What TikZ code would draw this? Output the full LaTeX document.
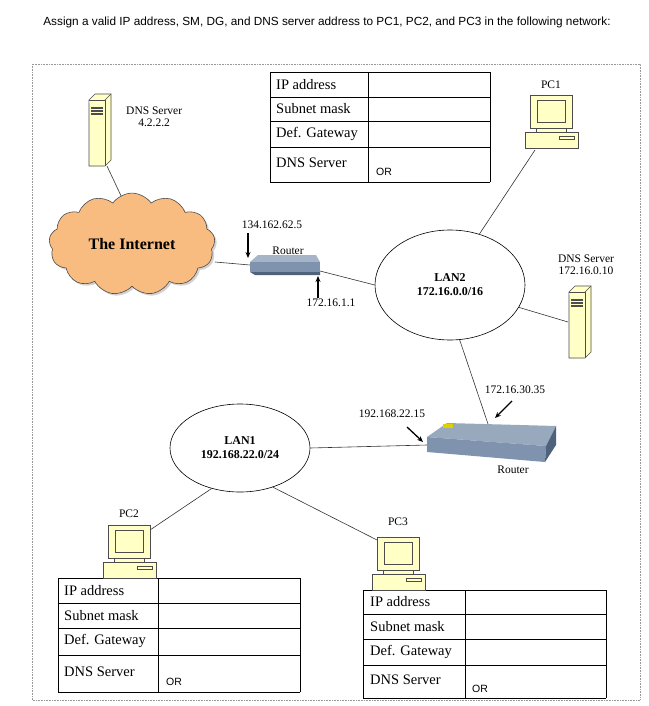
\documentclass[tikz,border=0pt]{standalone}
\usepackage{fontspec}
\setmainfont{Liberation Serif}
\newfontfamily\sans{Liberation Sans}
\usetikzlibrary{shapes.symbols,shapes.geometric,arrows.meta,shadows}
\definecolor{icony}{HTML}{FFFFC6}
\definecolor{cloudo}{HTML}{F9BC80}
\definecolor{rtr}{HTML}{7F93AE}
\definecolor{rtrd}{HTML}{4F627C}
\tikzset{
  lbl/.style={font=\fontsize{11.5}{12.5}\selectfont, inner sep=0pt},
  tbl/.style={font=\fontsize{14.5}{15}\selectfont, anchor=west, inner sep=0pt},
  orl/.style={font=\fontsize{10.5}{11}\selectfont\sans, anchor=west, inner sep=0pt},
  link/.style={draw=black!80, line width=0.6pt},
  ptr/.style={-{Stealth[length=6pt,width=5pt]}, line width=1.3pt},
  icon/.style={draw=black!70, fill=icony, line width=0.6pt},
}
\newcommand\mypc[1]{%
  \begin{scope}[shift={#1}]
    \draw[icon] (-21,-20) rectangle (21,13);
    \draw[icon] (-14,-15) rectangle (14,7);
    \draw[icon] (-15,13) rectangle (15,17);
    \draw[icon] (-26,17) rectangle (27,33);
    \draw[draw=black!70,fill=icony] (8,21) rectangle (23,24);
  \end{scope}}
\newcommand\mysrv[1]{%
  \begin{scope}[shift={#1}]
    \draw[icon] (-10,-30) -- (-4,-36) -- (12,-36) -- (12,30) -- (6,36) -- (-10,36) -- cycle;
    \draw[icon] (-10,-30) -- (6,-30) -- (6,36);
    \draw[icon] (6,-30) -- (12,-36);
    \foreach \yy in {-22,-19,-16} \draw[line width=1.2pt, black!70] (-8,\yy) -- (4,\yy);
  \end{scope}}
\begin{document}
\begin{tikzpicture}[x=1pt,y=-1pt]
\useasboundingbox (0,0) rectangle (648,706);
\fill[white] (0,0) rectangle (648,706);
\node[font=\fontsize{11.8}{13}\selectfont\sans] (title) at (327,22) {Assign a valid IP address, SM, DG, and DNS server address to PC1, PC2, and PC3 in the following network:};
\draw[black!40, densely dotted, line width=0.6pt] (32,64) rectangle (640,700);

% top table
\draw[line width=0.8pt] (270,72) -- (490,72) (270,72) -- (270,182) (368,72) -- (368,182) (490,72) -- (490,182) (270,182) -- (490,182);
\foreach \yy in {97,121,147} \draw[line width=0.6pt] (270,\yy) -- (490,\yy);
\node[tbl] (t1a) at (276,85) {IP address};
\node[tbl] (t1b) at (276,109) {Subnet mask};
\node[tbl] (t1c) at (276,134) {Def. Gateway};
\node[tbl] (t1d) at (276,163) {DNS Server};
\node[orl] (t1o) at (376,172) {OR};

% PC2 table
\draw[line width=0.8pt] (58,578) -- (300,578) (58,578) -- (58,692) (158,578) -- (158,692) (300,578) -- (300,692) (58,692) -- (300,692);
\foreach \yy in {603,628,655} \draw[line width=0.6pt] (58,\yy) -- (300,\yy);
\node[tbl] (t2a) at (64,591) {IP address};
\node[tbl] (t2b) at (64,616) {Subnet mask};
\node[tbl] (t2c) at (64,641) {Def. Gateway};
\node[tbl] (t2d) at (64,672) {DNS Server};
\node[orl] (t2o) at (166,682) {OR};

% PC3 table
\draw[line width=0.8pt] (363,590) -- (606,590) (363,590) -- (363,698) (465,590) -- (465,698) (606,590) -- (606,698) (363,698) -- (606,698);
\foreach \yy in {614,639,665} \draw[line width=0.6pt] (363,\yy) -- (606,\yy);
\node[tbl] (t3a) at (370,602) {IP address};
\node[tbl] (t3b) at (370,627) {Subnet mask};
\node[tbl] (t3c) at (370,652) {Def. Gateway};
\node[tbl] (t3d) at (370,680) {DNS Server};
\node[orl] (t3o) at (472,689) {OR};

% coordinates for connectors
\coordinate (srv1) at (107,166);
\coordinate (pc1c) at (535,150);
\coordinate (srv2) at (568,322);
\coordinate (r1l) at (250,265);
\coordinate (r1r) at (320,271);
\coordinate (r2t) at (488,424);
\coordinate (r2l) at (427,445);
\coordinate (pc2c) at (150,530);
\coordinate (pc3c) at (377,540);

\node[ellipse, draw, line width=0.6pt, minimum width=150, minimum height=110, align=center, font=\fontsize{12}{14}\selectfont\bfseries] (lan2) at (450,285) {LAN2\\172.16.0.0/16};
\node[ellipse, draw, line width=0.6pt, minimum width=140, minimum height=88, align=center, font=\fontsize{12}{14}\selectfont\bfseries] (lan1) at (240,448) {LAN1\\192.168.22.0/24};
\draw[link] (srv1) -- (123,200);
\draw[link] (215,262) -- (r1l);
\draw[link] (r1r) -- (lan2.west);
\draw[link] (pc1c) -- (lan2.60);
\draw[link] (lan2.-18) -- (srv2);
\draw[link] (lan2.-80) -- (r2t);
\draw[link] (lan1.east) -- (r2l);
\draw[link] (lan1.-125) -- (pc2c);
\draw[link] (lan1.-50) -- (pc3c);

% cloud
\node[cloud, cloud puffs=13, cloud puff arc=110, aspect=1.5, draw=black!70, fill=cloudo, line width=0.6pt, minimum width=166, minimum height=100, drop shadow={shadow xshift=2pt, shadow yshift=-2pt, fill=black!35}, font=\fontsize{16}{18}\selectfont\bfseries] (cloud) at (132,244) {The Internet};

% servers
\mysrv{(99,130)}
\node[lbl, align=center, anchor=west] (dns1) at (126,117) {DNS Server\\4.2.2.2};
\mysrv{(579,322)}
\node[lbl, align=center] (dns2) at (586,265) {DNS Server\\172.16.0.10};

% PCs
\mypc{(551,115)}
\node[lbl] (pc1) at (551,85) {PC1};
\mypc{(129,545)}
\node[lbl] (pc2) at (129,514) {PC2};
\mypc{(398,557)}
\node[lbl] (pc3) at (398,522) {PC3};

% router 1
\fill[rtr!70!white] (250,262) -- (258,255) -- (316,255) -- (320,262) -- cycle;
\fill[rtr] (250,262) rectangle (320,272);
\fill[rtrd] (250,272) -- (320,272) -- (320,275) -- (255,275) -- cycle;
\node[lbl] (rtr1) at (288,251) {Router};
\node[lbl] (ip1) at (272,225) {134.162.62.5};
\draw[ptr] (248,233) -- (248,258);
\node[lbl] (ip2) at (331,303) {172.16.1.1};
\draw[ptr] (318,298) -- (318,276);

% router 2
\fill[rtr!80!white] (427,437) -- (447,423) -- (556,426) -- (546,446) -- cycle;
\fill[rtr] (427,437) -- (546,446) -- (545,462) -- (427,452) -- cycle;
\fill[rtrd] (546,446) -- (556,426) -- (556,445) -- (545,462) -- cycle;
\fill[yellow!70!olive] (443,424) rectangle (453,428);
\node[lbl] (rtr2) at (513,470) {Router};
\node[lbl] (ip3) at (515,390) {172.16.30.35};
\draw[ptr] (512,401) -- (495,418);
\node[lbl] (ip4) at (392,414) {192.168.22.15};
\draw[ptr] (407,427) -- (423,442);
\end{tikzpicture}
\end{document}
